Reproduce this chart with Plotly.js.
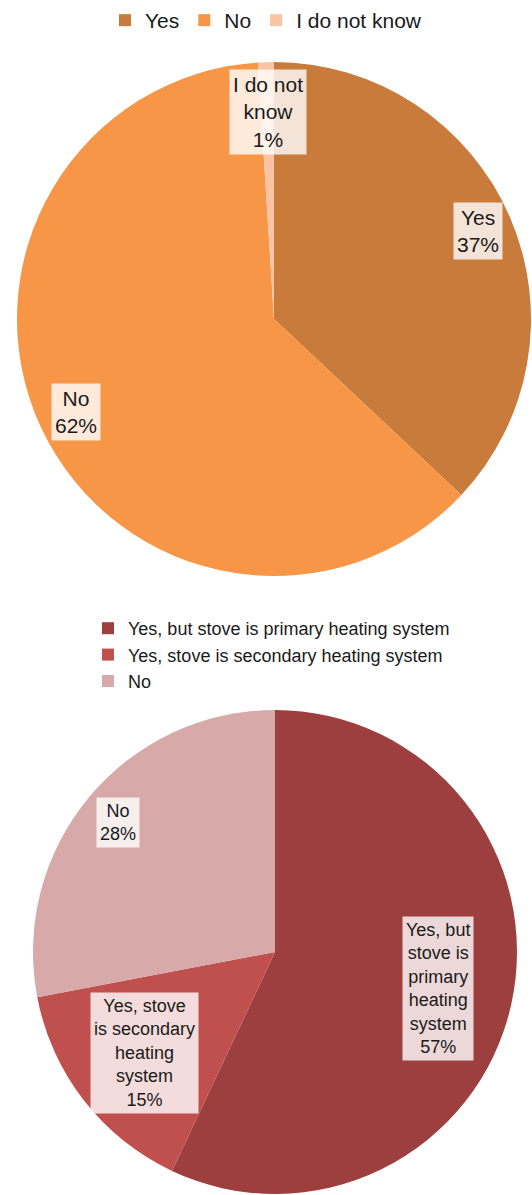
<!DOCTYPE html>
<html>
<head>
<meta charset="utf-8">
<script src="https://cdn.plot.ly/plotly-3.0.1.min.js"></script>
<style>
  html, body { margin: 0; padding: 0; background: #ffffff; }
  #chart { width: 532px; height: 1195px; }
</style>
</head>
<body>
<div id="chart"></div>
<script>
// ---- Data ----
const topCategories = ["Yes", "No", "I do not know"];
const topValues = [37, 62, 1];
const topLabelTexts = ["Yes", "No", "I do not<br>know"];

const bottomCategories = [
  "Yes, but stove is primary heating system",
  "Yes, stove is secondary heating system",
  "No"
];
const bottomValues = [57, 15, 28];
const bottomLabelTexts = [
  "Yes, but<br>stove is<br>primary<br>heating<br>system",
  "Yes, stove<br>is secondary<br>heating<br>system",
  "No"
];

// ---- Style / layout ----
const W = 532, H = 1195;
const FONT = "Arial, 'Liberation Sans', sans-serif";
const topColors = ["#C97B3B", "#F79646", "#FAC3A3"];
const bottomColors = ["#9E3F3F", "#C0504D", "#D8A9A9"];
const topDomainPx = { x: [17, 531], y: [62, 576] };
const bottomDomainPx = { x: [33, 517], y: [710, 1194] };
const topLabelRadius = [0.865, 0.85, 0.805];
const bottomLabelRadius = [0.69, 0.68, 0.84];

function domainOf(px) {
  return {
    x: [px.x[0] / W, px.x[1] / W],
    y: [1 - px.y[1] / H, 1 - px.y[0] / H]
  };
}

function labelAnnotations(values, texts, px, radii, fontSize) {
  const total = values.reduce((a, b) => a + b, 0);
  const cx = (px.x[0] + px.x[1]) / 2;
  const cy = (px.y[0] + px.y[1]) / 2;
  const r = Math.min(px.x[1] - px.x[0], px.y[1] - px.y[0]) / 2;
  let cum = 0;
  return values.map((v, i) => {
    const theta = 2 * Math.PI * (cum + v / 2) / total;
    cum += v;
    const x = cx + radii[i] * r * Math.sin(theta);
    const y = cy - radii[i] * r * Math.cos(theta);
    const pct = Math.round(100 * v / total) + "%";
    return {
      xref: "paper", yref: "paper",
      x: x / W, y: 1 - y / H,
      xanchor: "center", yanchor: "middle",
      text: texts[i] + "<br>" + pct,
      showarrow: false,
      align: "center",
      bgcolor: "rgba(255,255,255,0.8)",
      borderpad: 3,
      font: { family: FONT, size: fontSize, color: "#1a1a1a" }
    };
  });
}

// Pie legends merge identical labels across traces; a zero-width space keeps
// the second chart's "No" as its own legend entry without changing its look.
const bottomLegendLabels = bottomCategories.map(c => topCategories.includes(c) ? c + "\u200B" : c);

const traces = [
  {
    type: "pie",
    labels: topCategories,
    values: topValues,
    sort: false,
    direction: "clockwise",
    rotation: 0,
    textinfo: "none",
    hoverinfo: "skip",
    marker: { colors: topColors, line: { width: 0 } },
    domain: domainOf(topDomainPx),
    legend: "legend",
    showlegend: true
  },
  {
    type: "pie",
    labels: bottomLegendLabels,
    values: bottomValues,
    sort: false,
    direction: "clockwise",
    rotation: 0,
    textinfo: "none",
    hoverinfo: "skip",
    marker: { colors: bottomColors, line: { width: 0 } },
    domain: domainOf(bottomDomainPx),
    legend: "legend2",
    showlegend: true
  }
];

const layout = {
  width: W,
  height: H,
  margin: { l: 0, r: 0, t: 0, b: 0 },
  paper_bgcolor: "#ffffff",
  plot_bgcolor: "#ffffff",
  font: { family: FONT, color: "#1a1a1a" },
  legend: {
    orientation: "h",
    x: 0.5, xanchor: "center",
    y: 1.0, yanchor: "top",
    font: { family: FONT, size: 21, color: "#1a1a1a" },
    bgcolor: "rgba(0,0,0,0)"
  },
  legend2: {
    orientation: "v",
    x: 88 / W, xanchor: "left",
    y: 1 - 610 / H, yanchor: "top",
    font: { family: FONT, size: 18, color: "#1a1a1a" },
    bgcolor: "rgba(0,0,0,0)"
  },
  annotations: [
    ...labelAnnotations(topValues, topLabelTexts, topDomainPx, topLabelRadius, 21),
    ...labelAnnotations(bottomValues, bottomLabelTexts, bottomDomainPx, bottomLabelRadius, 18)
  ]
};

Plotly.newPlot("chart", traces, layout, { displayModeBar: false, staticPlot: true });
</script>
</body>
</html>
